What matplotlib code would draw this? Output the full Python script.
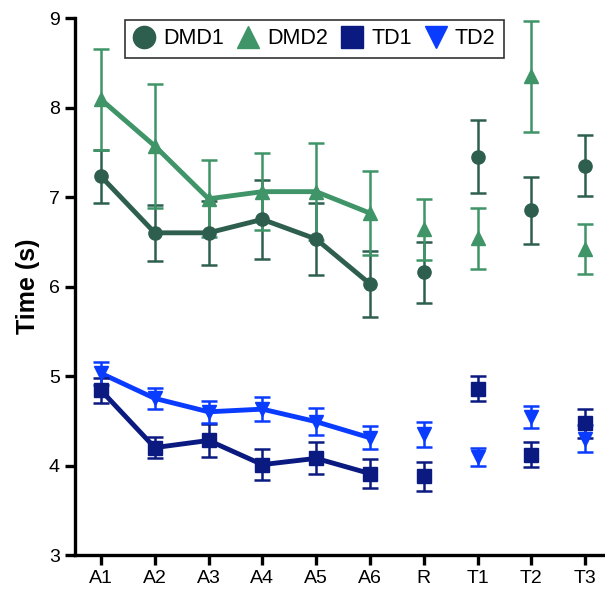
import matplotlib
matplotlib.use("Agg")
import matplotlib.pyplot as plt
from matplotlib.lines import Line2D

plt.rcParams['font.family'] = ['Liberation Sans', 'DejaVu Sans']

categories = ["A1", "A2", "A3", "A4", "A5", "A6", "R", "T1", "T2", "T3"]

dmd1 = [7.23, 6.60, 6.60, 6.75, 6.53, 6.03, 6.16, 7.45, 6.85, 7.35]
dmd1_err = [0.30, 0.31, 0.36, 0.44, 0.40, 0.37, 0.34, 0.41, 0.37, 0.34]
dmd2 = [8.09, 7.57, 6.98, 7.06, 7.06, 6.82, 6.64, 6.54, 8.35, 6.42]
dmd2_err = [0.56, 0.69, 0.43, 0.43, 0.54, 0.47, 0.34, 0.34, 0.62, 0.28]
td1 = [4.84, 4.20, 4.28, 4.01, 4.08, 3.91, 3.88, 4.86, 4.12, 4.47]
td1_err = [0.14, 0.12, 0.18, 0.17, 0.18, 0.16, 0.16, 0.14, 0.14, 0.16]
td2 = [5.03, 4.75, 4.60, 4.63, 4.49, 4.31, 4.35, 4.10, 4.54, 4.30]
td2_err = [0.13, 0.12, 0.12, 0.13, 0.15, 0.13, 0.14, 0.10, 0.12, 0.15]

series_names = ["DMD1", "DMD2", "TD1", "TD2"]
colors = ["#2d5e4e", "#3f9468", "#0a1a80", "#0a3cff"]
markers = ["o", "^", "s", "v"]

fig = plt.figure(figsize=(6.05, 5.89), dpi=100)
ax = fig.add_axes([0.124, 0.0577, 0.876, 0.9117])

x = list(range(len(categories)))
n_line = 6
data = [(dmd1, dmd1_err), (dmd2, dmd2_err), (td1, td1_err), (td2, td2_err)]
for (vals, errs), c, m in zip(data, colors, markers):
    ax.plot(x[:n_line], vals[:n_line], color=c, lw=3.5, zorder=2, solid_capstyle='butt')
    ax.errorbar(x, vals, yerr=errs, fmt=m, color=c, ms=9.5, mec=c,
                elinewidth=1.8, capsize=6, capthick=1.8, zorder=3)

ax.set_xlim(-0.483, 9.37)
ax.set_ylim(3, 9)
ax.set_yticks([3, 4, 5, 6, 7, 8, 9])
ax.set_xticks(x)
ax.set_xticklabels(categories)
ax.set_ylabel("Time (s)", fontsize=18, fontweight='bold', labelpad=6)

for s in ["top", "right"]:
    ax.spines[s].set_visible(False)
for s in ["left", "bottom"]:
    ax.spines[s].set_linewidth(2.4)
ax.tick_params(axis='both', length=7, width=2.4, labelsize=14, pad=4)

handles = [Line2D([], [], linestyle='none', marker=m, color=c, ms=16)
           for m, c in zip(markers, colors)]
leg = ax.legend(handles, series_names, loc='upper left', bbox_to_anchor=(0.094, 0.997),
                borderaxespad=0, ncol=4, fontsize=15.5, frameon=True, fancybox=False,
                handlelength=1.0, handletextpad=0.4, columnspacing=0.6,
                borderpad=0.4, edgecolor='black')
leg.get_frame().set_linewidth(1.2)

fig.savefig("out.png", dpi=100)
